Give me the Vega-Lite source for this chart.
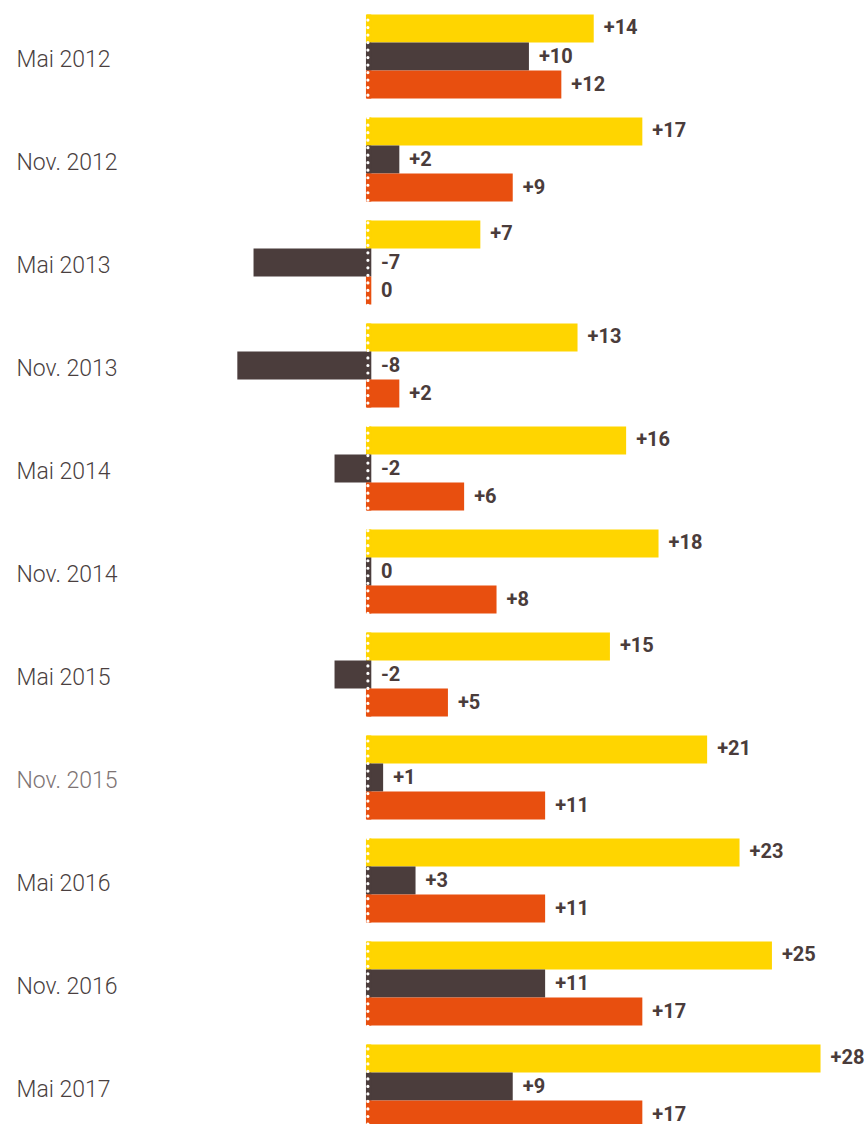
{
  "$schema": "https://vega.github.io/schema/vega-lite/v6.json",
  "width": 868,
  "height": 1133,
  "autosize": "none",
  "padding": {"top": 5, "left": 0, "right": 0, "bottom": 0},
  "background": "white",
  "config": {"view": {"stroke": null}, "locale": {"number": {"decimal": ".", "thousands": ",", "grouping": [3], "currency": ["", ""], "minus": "-"}}},
  "data": {
    "values": [
      {"periode": "Mai 2012", "s": "s1", "v": 14}, {"periode": "Mai 2012", "s": "s2", "v": 10}, {"periode": "Mai 2012", "s": "s3", "v": 12},
      {"periode": "Nov. 2012", "s": "s1", "v": 17}, {"periode": "Nov. 2012", "s": "s2", "v": 2}, {"periode": "Nov. 2012", "s": "s3", "v": 9},
      {"periode": "Mai 2013", "s": "s1", "v": 7}, {"periode": "Mai 2013", "s": "s2", "v": -7}, {"periode": "Mai 2013", "s": "s3", "v": 0},
      {"periode": "Nov. 2013", "s": "s1", "v": 13}, {"periode": "Nov. 2013", "s": "s2", "v": -8}, {"periode": "Nov. 2013", "s": "s3", "v": 2},
      {"periode": "Mai 2014", "s": "s1", "v": 16}, {"periode": "Mai 2014", "s": "s2", "v": -2}, {"periode": "Mai 2014", "s": "s3", "v": 6},
      {"periode": "Nov. 2014", "s": "s1", "v": 18}, {"periode": "Nov. 2014", "s": "s2", "v": 0}, {"periode": "Nov. 2014", "s": "s3", "v": 8},
      {"periode": "Mai 2015", "s": "s1", "v": 15}, {"periode": "Mai 2015", "s": "s2", "v": -2}, {"periode": "Mai 2015", "s": "s3", "v": 5},
      {"periode": "Nov. 2015", "s": "s1", "v": 21}, {"periode": "Nov. 2015", "s": "s2", "v": 1}, {"periode": "Nov. 2015", "s": "s3", "v": 11},
      {"periode": "Mai 2016", "s": "s1", "v": 23}, {"periode": "Mai 2016", "s": "s2", "v": 3}, {"periode": "Mai 2016", "s": "s3", "v": 11},
      {"periode": "Nov. 2016", "s": "s1", "v": 25}, {"periode": "Nov. 2016", "s": "s2", "v": 11}, {"periode": "Nov. 2016", "s": "s3", "v": 17},
      {"periode": "Mai 2017", "s": "s1", "v": 28}, {"periode": "Mai 2017", "s": "s2", "v": 9}, {"periode": "Mai 2017", "s": "s3", "v": 17}
    ]
  },
  "resolve": {"scale": {"x": "shared", "y": "shared"}},
  "layer": [
    {
      "mark": {"type": "bar"},
      "encoding": {
        "y": {"field": "periode", "type": "nominal", "sort": null,
              "scale": {"paddingInner": 0.184, "paddingOuter": 0.092},
              "axis": {"title": null, "domain": false, "ticks": false, "labelAlign": "left", "labelPadding": -16,
                       "labelFont": "Roboto", "labelFontWeight": 300, "labelFontSize": 23, "labelOffset": 3,
                       "labelColor": {"condition": {"test": "datum.value === 'Nov. 2015'", "value": "#7d7373"}, "value": "#4a3f3f"}}},
        "yOffset": {"field": "s", "type": "nominal", "scale": {"domain": ["s1", "s2", "s3"], "paddingInner": 0, "paddingOuter": 0}},
        "x": {"field": "v", "type": "quantitative", "scale": {"domain": [-22.65, 30.93], "nice": false, "zero": false}, "axis": null},
        "color": {"field": "s", "type": "nominal", "scale": {"domain": ["s1", "s2", "s3"], "range": ["#FFD500", "#4B3D3C", "#E84F0F"]}, "legend": null}
      }
    },
    {
      "mark": {"type": "bar"},
      "encoding": {
        "y": {"field": "periode", "type": "nominal", "sort": null},
        "yOffset": {"field": "s", "type": "nominal"},
        "x": {"datum": -0.06, "type": "quantitative"},
        "x2": {"datum": 0.27},
        "color": {"field": "s", "type": "nominal", "legend": null}
      }
    },
    {
      "data": {"values": [{}]},
      "mark": {"type": "rule", "color": "white", "strokeWidth": 3.2, "strokeDash": [0.01, 7.5], "strokeCap": "round"},
      "encoding": {"x": {"datum": 0.06, "type": "quantitative"}}
    },
    {
      "transform": [{"filter": "datum.v > 0"}],
      "mark": {"type": "text", "align": "left", "baseline": "middle", "dx": 10, "dy": 0, "font": "Roboto", "fontWeight": "bold", "fontSize": 20, "color": "#4A3C3B"},
      "encoding": {
        "y": {"field": "periode", "type": "nominal", "sort": null},
        "yOffset": {"field": "s", "type": "nominal"},
        "x": {"field": "v", "type": "quantitative"},
        "text": {"field": "v", "type": "quantitative", "format": "+d"}
      }
    },
    {
      "transform": [{"filter": "datum.v <= 0"}],
      "mark": {"type": "text", "align": "left", "baseline": "middle", "dx": 14, "dy": 0, "font": "Roboto", "fontWeight": "bold", "fontSize": 20, "color": "#4A3C3B"},
      "encoding": {
        "y": {"field": "periode", "type": "nominal", "sort": null},
        "yOffset": {"field": "s", "type": "nominal"},
        "x": {"datum": 0, "type": "quantitative"},
        "text": {"condition": {"test": "datum.v === 0", "value": "0"}, "field": "v", "type": "quantitative", "format": "d"}
      }
    }
  ]
}
